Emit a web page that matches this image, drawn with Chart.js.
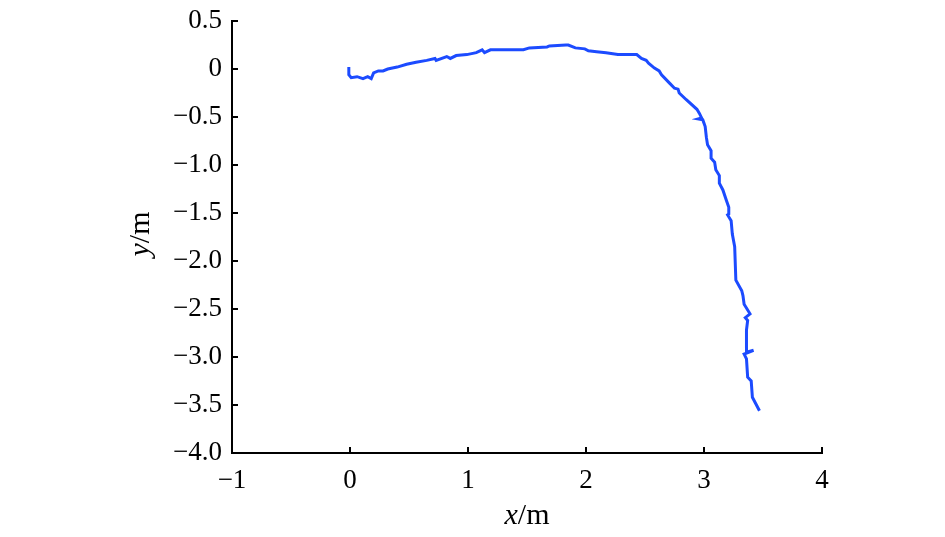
<!DOCTYPE html>
<html>
<head>
<meta charset="utf-8">
<script src="https://cdn.jsdelivr.net/npm/chart.js@4.4.1/dist/chart.umd.min.js"></script>
<style>
  html, body { margin: 0; padding: 0; background: #fff; }
  #wrap { width: 945px; height: 537px; }
</style>
</head>
<body>
<div id="wrap"><canvas id="trackChart"></canvas></div>
<script>
// trajectory (metres)
const xs = [-0.01, -0.01, 0.01, 0.06, 0.11, 0.15, 0.18, 0.20, 0.24, 0.28, 0.32, 0.40, 0.48, 0.56, 0.65, 0.72, 0.73, 0.82, 0.85, 0.90,
  0.99, 1.07, 1.12, 1.14, 1.19, 1.47, 1.52, 1.67, 1.69, 1.83, 1.85, 1.91, 1.99, 2.02, 2.09, 2.17, 2.27, 2.43, 2.47, 2.51,
  2.53, 2.58, 2.62, 2.64, 2.71, 2.75, 2.78, 2.79, 2.85, 2.94, 2.96, 2.98, 2.95, 2.99, 3.01, 3.02, 3.03, 3.06, 3.06, 3.09,
  3.10, 3.13, 3.13, 3.16, 3.19, 3.21, 3.21, 3.20, 3.23, 3.24, 3.26, 3.27, 3.32, 3.33, 3.34, 3.39, 3.35, 3.37, 3.36, 3.36,
  3.42, 3.34, 3.36, 3.37, 3.40, 3.41, 3.44, 3.47];
const ys = [0.02, -0.06, -0.09, -0.08, -0.10, -0.08, -0.10, -0.04, -0.02, -0.02, 0.00, 0.02, 0.05, 0.07, 0.09, 0.11, 0.09, 0.13, 0.11, 0.14,
  0.15, 0.17, 0.20, 0.17, 0.20, 0.20, 0.22, 0.23, 0.24, 0.25, 0.25, 0.22, 0.21, 0.19, 0.18, 0.17, 0.15, 0.15, 0.11, 0.09,
  0.06, 0.01, -0.02, -0.06, -0.15, -0.20, -0.21, -0.25, -0.32, -0.42, -0.46, -0.51, -0.52, -0.53, -0.60, -0.71, -0.79, -0.85, -0.93, -0.97,
  -1.05, -1.11, -1.19, -1.26, -1.37, -1.44, -1.51, -1.52, -1.58, -1.72, -1.85, -2.20, -2.31, -2.36, -2.45, -2.55, -2.59, -2.62, -2.72, -2.95,
  -2.93, -2.97, -3.02, -3.21, -3.25, -3.42, -3.49, -3.56];

const xTicks = [-1, 0, 1, 2, 3, 4];
const yTicks = [0.5, 0, -0.5, -1.0, -1.5, -2.0, -2.5, -3.0, -3.5, -4.0];

const serif = '"Liberation Serif", "Times New Roman", serif';

function fmt(v, digits) {
  if (v === 0) return '0';
  const s = Math.abs(v).toFixed(digits);
  return v < 0 ? '\u2212' + s : s;
}

// short inward ticks + axis titles with italic variable
const decorations = {
  id: 'decorations',
  afterDraw(chart) {
    const ctx = chart.ctx;
    const area = chart.chartArea;
    const sx = chart.scales.x, sy = chart.scales.y;
    ctx.save();
    ctx.strokeStyle = '#000';
    ctx.lineWidth = 2;
    ctx.beginPath();
    xTicks.forEach(v => {
      const px = Math.round(sx.getPixelForValue(v));
      ctx.moveTo(px, area.bottom);
      ctx.lineTo(px, area.bottom - 6);
    });
    yTicks.forEach(v => {
      const py = Math.round(sy.getPixelForValue(v));
      ctx.moveTo(area.left, py);
      ctx.lineTo(area.left + 6, py);
    });
    ctx.stroke();

    ctx.fillStyle = '#000';
    ctx.textBaseline = 'alphabetic';
    const italic = 'italic 30px ' + serif;
    const upright = '30px ' + serif;
    // x title
    ctx.font = italic;
    const w1 = ctx.measureText('x').width;
    ctx.font = upright;
    const w2 = ctx.measureText('/m').width;
    let cx = (area.left + area.right) / 2 - (w1 + w2) / 2;
    ctx.font = italic;
    ctx.textAlign = 'left';
    ctx.fillText('x', cx, 524);
    ctx.font = upright;
    ctx.fillText('/m', cx + w1, 524);
    // y title (rotated)
    ctx.translate(149, 234);
    ctx.rotate(-Math.PI / 2);
    ctx.font = italic;
    const v1 = ctx.measureText('y').width;
    ctx.font = upright;
    const v2 = ctx.measureText('/m').width;
    cx = -(v1 + v2) / 2;
    ctx.font = italic;
    ctx.fillText('y', cx, 0);
    ctx.font = upright;
    ctx.fillText('/m', cx + v1, 0);
    ctx.restore();
  }
};

new Chart(document.getElementById('trackChart'), {
  type: 'scatter',
  data: {
    datasets: [{
      data: xs.map((x, i) => ({ x: x, y: ys[i] })),
      showLine: true,
      borderColor: '#1c4bff',
      borderWidth: 3,
      pointRadius: 0,
      fill: false,
      tension: 0
    }]
  },
  options: {
    responsive: true,
    maintainAspectRatio: false,
    animation: false,
    layout: { padding: { top: 21, right: 123, left: 0, bottom: 0 } },
    plugins: {
      legend: { display: false },
      tooltip: { enabled: false }
    },
    scales: {
      x: {
        type: 'linear',
        min: -1, max: 4,
        afterBuildTicks: s => { s.ticks = xTicks.map(v => ({ value: v })); },
        afterFit: s => { s.height = 84; s.paddingLeft = 0; s.paddingRight = 0; },
        grid: { display: false, drawTicks: false },
        border: { display: true, color: '#000', width: 2 },
        ticks: {
          color: '#000',
          padding: 12,
          font: { family: serif, size: 27 },
          callback: v => fmt(v, 0)
        }
      },
      y: {
        type: 'linear',
        min: -4, max: 0.5,
        afterBuildTicks: s => { s.ticks = yTicks.map(v => ({ value: v })); },
        afterFit: s => { s.width = 232; s.paddingTop = 0; s.paddingBottom = 0; },
        grid: { display: false, drawTicks: false },
        border: { display: true, color: '#000', width: 2 },
        ticks: {
          color: '#000',
          padding: 10,
          font: { family: serif, size: 27 },
          callback: v => fmt(v, 1)
        }
      }
    }
  },
  plugins: [decorations]
});
</script>
</body>
</html>
